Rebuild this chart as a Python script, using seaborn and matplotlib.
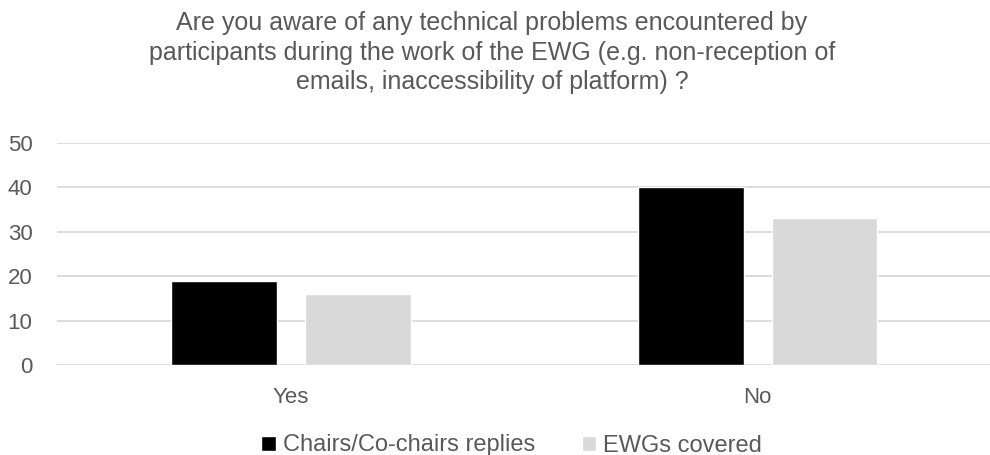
import pandas as pd
import numpy as np
from matplotlib import pyplot as plt
import seaborn as sns

answers = ['Yes', 'No']
series = ['Chairs/Co-chairs replies', 'EWGs covered']
chairs_replies = [19, 40]
ewgs_covered = [16, 33]
title = ('Are you aware of any technical problems encountered by\n'
         'participants during the work of the EWG (e.g. non-reception of\n'
         'emails, inaccessibility of platform) ?')

df = pd.DataFrame({
    'answer': answers * 2,
    'series': [series[0]] * len(answers) + [series[1]] * len(answers),
    'value': chairs_replies + ewgs_covered,
})

sns.set_style('white')
plt.rcParams['font.family'] = ['Liberation Sans', 'DejaVu Sans']
text_color = '#595959'
grid_color = '#D9D9D9'

f = plt.figure(figsize=(9.9, 4.55), dpi=100)
ax = f.add_axes([0.058, 0.198, 0.943, 0.488])

sns.barplot(data=df, x='answer', y='value', hue='series',
            palette=['#000000', '#D9D9D9'], width=0.573, gap=0.21,
            saturation=1, ax=ax, zorder=3)

ax.set_ylim(0, 50)
ax.set_yticks(range(0, 51, 10))
ax.yaxis.grid(True, color=grid_color, linewidth=1.3, zorder=0)
ax.set_axisbelow(True)
for s in ax.spines.values():
    s.set_visible(False)
ax.tick_params(axis='both', length=0, labelsize=16, colors=text_color)
ax.tick_params(axis='y', pad=18)
ax.tick_params(axis='x', pad=16)
ax.set_xlabel('')
ax.set_ylabel('')

f.text(0.497, 0.975, title, ha='center', va='top', fontsize=18,
       color=text_color, linespacing=1.28)

handles, labels = ax.get_legend_handles_labels()
ax.legend_.remove()
f.legend(handles, labels, loc='lower center', bbox_to_anchor=(0.517, -0.05),
         ncol=2, frameon=False, fontsize=17, labelcolor=text_color,
         handlelength=0.6, handleheight=0.6, handletextpad=0.3,
         columnspacing=2.0)

f.savefig('out.png', dpi=100)
